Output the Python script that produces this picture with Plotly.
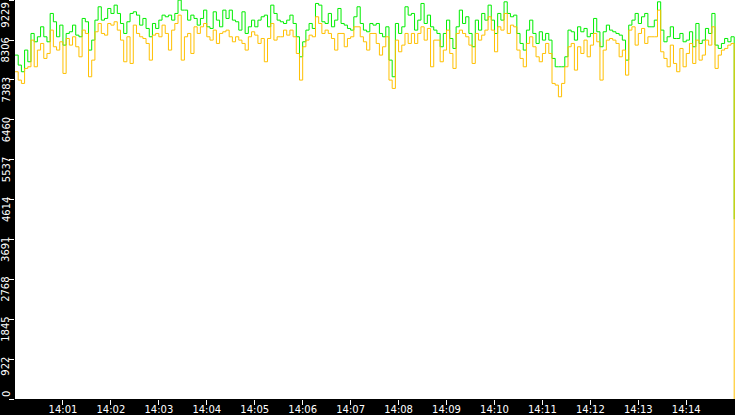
import datetime
import plotly.graph_objs as go
#
# Samples taken every ~4 seconds, 14:00:00 -> 14:15:00
green_vals = [
    7957, 7726, 7572, 8073, 7803, 8458, 8265, 8381, 8612, 8381, 8265, 8921, 8728, 8381, 8651, 8188, 8458, 8497, 8651,
    8419, 8381, 8805, 8728, 8073, 8304, 8766, 9075, 8766, 8805, 9036, 8921, 9113, 8921, 8689, 8458, 8728, 8921, 8959,
    8882, 8651, 8805, 8574, 8381, 8689, 8574, 8766, 8882, 8844, 8882, 8766, 8921, 9229, 8998, 8998, 8766, 8882, 8805,
    8651, 8805, 8998, 8612, 8574, 8959, 8766, 8612, 8998, 8805, 8998, 8766, 8728, 8535, 8959, 8458, 8612, 8766, 8612,
    8766, 8844, 8882, 8612, 9113, 8921, 8766, 8728, 8689, 8766, 8882, 8689, 8381, 7918, 8265, 8535, 8689, 8574, 9152,
    9113, 8728, 8689, 8921, 8612, 8766, 9036, 8689, 8651, 8574, 8535, 8844, 9075, 8689, 8535, 8497, 8689, 8651,
    8689, 8458, 8381, 8612, 7841, 7456, 8689, 8458, 8612, 9075, 8882, 8921, 8535, 8766, 9152, 8689, 8882, 8612, 8535,
    8458, 8150, 8458, 8766, 8342, 8111, 8612, 8998, 8689, 8844, 8458, 8150, 8766, 8535, 8921, 8766, 9113, 8766, 8458,
    8921, 8766, 9190, 8921, 8844, 8882, 8458, 8227, 8073, 8535, 8766, 8458, 8227, 8497, 8304, 8458, 8304, 7880, 7687,
    7687, 7687, 7918, 8535, 8497, 8304, 8612, 8497, 8574, 8381, 8458, 8805, 8497, 8150, 8497, 8651, 8535, 8497,
    8458, 8419, 8304, 7841, 8651, 8766, 8921, 8689, 8844, 8921, 8612, 8612, 8766, 9190, 8535, 8265, 8381, 8612, 8342,
    8342, 8458, 8265, 8304, 8497, 8150, 8689, 8227, 8304, 8574, 8458, 8921, 8188, 8111, 8227, 8342, 8265, 8381,
    4160,
]
orange_vals = [
    7572, 7379, 7302, 7649, 7687, 8304, 7687, 8073, 8227, 7880, 7995, 8535, 8150, 8073, 8265, 7533, 8342, 8188, 8381,
    8150, 7918, 8535, 8458, 7456, 7841, 8497, 8689, 8458, 8419, 8689, 8651, 8728, 8535, 8304, 7803, 8381, 7764, 8651,
    8458, 8381, 8342, 8227, 7841, 8419, 8458, 8381, 8651, 8458, 8073, 8535, 8689, 8882, 7841, 8381, 8458, 7995, 8612,
    8458, 8612, 8689, 8381, 8304, 8535, 8227, 8458, 8497, 8535, 8381, 8265, 8381, 8304, 8227, 8073, 8381, 8497, 8419,
    8227, 8342, 7803, 8342, 8689, 8304, 8381, 8381, 8535, 8419, 8535, 8381, 7995, 7379, 8150, 8304, 8419, 8381, 8844,
    8689, 8458, 8535, 8458, 8342, 8073, 8458, 8458, 8150, 8342, 8381, 8612, 8612, 8381, 8265, 8073, 8458, 8458,
    8227, 7957, 8150, 8381, 7379, 7186, 8304, 8034, 8188, 8458, 8227, 8458, 8227, 8458, 8612, 8304, 8574, 7687, 8304,
    8304, 7803, 8073, 8535, 7995, 7649, 8458, 8535, 8458, 8381, 8188, 7764, 8458, 8304, 8419, 8535, 8844, 8535, 8034,
    8612, 8535, 8921, 8458, 8651, 8612, 8073, 7880, 7687, 8227, 8381, 8150, 7918, 7803, 7995, 8227, 7995, 7302, 7263,
    6993, 7302, 7687, 8150, 8227, 7610, 8150, 7995, 8304, 7918, 8188, 8458, 8265, 7379, 8073, 8304, 8342, 8304,
    8227, 7918, 8073, 7494, 8535, 8612, 8188, 8458, 8574, 8227, 8381, 8381, 8381, 8998, 8034, 7880, 7687, 8188, 7764,
    7572, 8111, 7687, 7995, 8227, 7764, 8304, 7841, 7957, 8304, 8188, 8612, 7649, 7957, 8073, 8111, 8188, 8227,
    0,
]
#
# Time stamps spread evenly over the 15 minute window
start = datetime.datetime(2024, 1, 1, 14, 0, 0)
n = min(len(green_vals), len(orange_vals))
times = [start + datetime.timedelta(seconds=900.0 * k / (n - 1)) for k in range(n)]
#
# Axis ticks
y_ticks = [0, 922, 1845, 2768, 3691, 4614, 5537, 6460, 7383, 8306, 9229]
x_tick_labels = ["14:01", "14:02", "14:03", "14:04", "14:05", "14:06", "14:07",
                 "14:08", "14:09", "14:10", "14:11", "14:12", "14:13", "14:14"]
x_ticks = [datetime.datetime(2024, 1, 1, 14, int(t[3:]), 0) for t in x_tick_labels]
#
data = [
    go.Scatter(x=times[:n], y=green_vals[:n], mode="lines", line_shape="hv",
               line=dict(color="#00ee00", width=1), hoverinfo="skip"),
    go.Scatter(x=times[:n], y=orange_vals[:n], mode="lines", line_shape="hv",
               line=dict(color="#ffc000", width=1), hoverinfo="skip"),
]
axis_font = dict(family="DejaVu Sans", size=10, color="white")
#
# Rotated y labels hang just under their tick (top one kept inside, zero sits above)
y_labels = []
for v in y_ticks:
    if v == 0:
        anchor, shift = "bottom", 0
    elif v == y_ticks[-1]:
        anchor, shift = "top", -1
    else:
        anchor, shift = "top", 4
    y_labels.append(dict(
        x=0, xref="paper", y=v, yref="y", text=str(v), showarrow=False,
        textangle=-90, xanchor="center", yanchor=anchor, xshift=-9, yshift=shift,
        font=axis_font,
    ))
layout = go.Layout(
    width=735,
    height=415,
    margin=dict(l=15, r=0, t=0, b=16, pad=0),
    paper_bgcolor="black",
    plot_bgcolor="white",
    showlegend=False,
    annotations=y_labels,
    xaxis=dict(
        type="date",
        range=[start, start + datetime.timedelta(seconds=901)],
        tickvals=x_ticks,
        ticktext=x_tick_labels,
        ticks="outside",
        ticklen=5,
        tickcolor="white",
        tickfont=axis_font,
        ticklabelstandoff=-4,
        automargin=False,
        showgrid=False,
        zeroline=False,
        showline=False,
    ),
    yaxis=dict(
        range=[0, 9232],
        tickvals=y_ticks,
        ticks="outside",
        ticklen=5,
        tickcolor="white",
        showticklabels=False,
        automargin=False,
        showgrid=False,
        zeroline=False,
        showline=False,
    ),
)
config = {"displayModeBar": False}
fig = go.Figure(data=data, layout=layout)
#
# Drop the default page margin so the figure sits flush in the window
fig.write_html("out.html", config=config, post_script="document.body.style.margin='0';")
